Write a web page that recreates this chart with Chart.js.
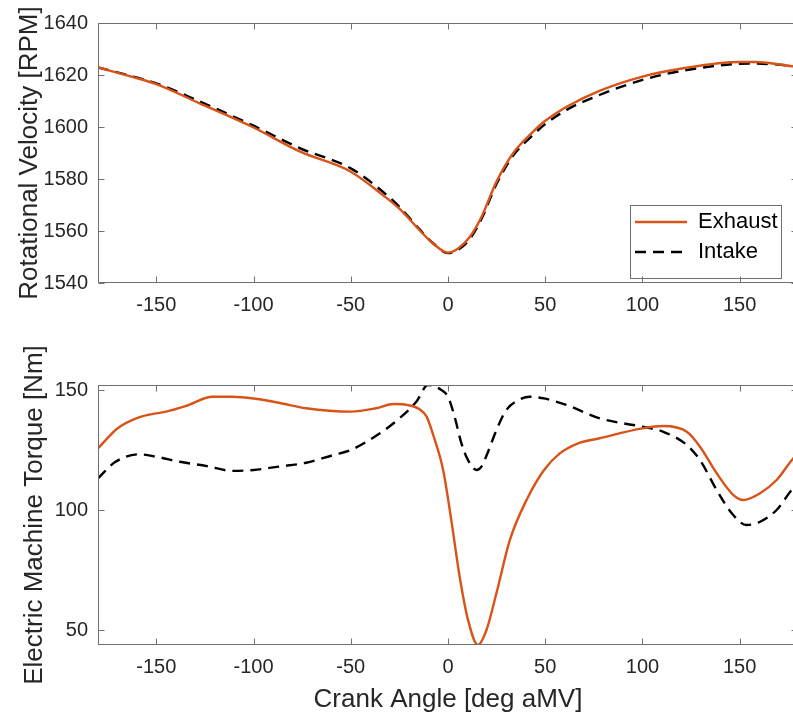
<!DOCTYPE html>
<html><head><meta charset="utf-8">
<script src="https://cdn.jsdelivr.net/npm/chart.js@4.4.1/dist/chart.umd.min.js"></script>
<style>
html,body{margin:0;padding:0;background:#fff;overflow:hidden;width:793px;height:719px;}
#topc{position:absolute;left:0;top:0;}
#botc{position:absolute;left:0;top:330px;}
</style></head><body>
<canvas id="topc" width="800" height="330"></canvas>
<canvas id="botc" width="800" height="389"></canvas>
<script>
// ---- tick labels ----
const angleTicks = [-150, -100, -50, 0, 50, 100, 150];
const rpmTicks = [1540, 1560, 1580, 1600, 1620, 1640];
const torqueTicks = [50, 100, 150];

// ---- rotational velocity ----
const rpmAngles  = [-180, -162, -150, -128, -100, -76, -50, -33.5, -24.9, -14.6, -7.7, 0, 5.2, 11.2, 17.2, 24.9, 33.5, 43.8, 49.5, 61, 78.2, 100, 121, 150, 158, 177.5, 180];
const rpmExhaust = [1622.9, 1619.2, 1616.5, 1609.2, 1599.8, 1590.5, 1582.8, 1573.8, 1568.5, 1560.3, 1555.2, 1551.7, 1553.3, 1557.7, 1565.4, 1578.9, 1589.9, 1598.2, 1602.1, 1607.8, 1614.0, 1619.4, 1622.6, 1625.0, 1625.0, 1623.3, 1623.0];
const rpmIntake  = [1622.9, 1619.4, 1616.8, 1609.9, 1600.5, 1591.8, 1584.1, 1575.1, 1569.2, 1560.6, 1555.3, 1551.5, 1552.8, 1556.9, 1564.6, 1578.0, 1589.0, 1597.0, 1600.8, 1606.6, 1612.4, 1618.1, 1621.7, 1624.3, 1624.4, 1623.5, 1623.3];

// ---- electric machine torque ----
const torqueExhaustAngles = [-180, -170, -159, -150, -145, -135, -121, -111, -100, -87, -73, -50, -37, -28, -21, -14.6, -11, -7.5, -2.5, 1.7, 6, 10.3, 15.4, 19.8, 24.9, 31.8, 40.4, 49.4, 57.5, 66, 78, 100, 110.7, 122.8, 129.6, 138.2, 146.8, 152, 160.5, 169, 177.5, 180];
const torqueExhaust       = [125.7, 134.0, 138.6, 140.3, 141.0, 143.3, 147.2, 147.2, 146.5, 144.7, 142.4, 141.0, 142.4, 144.2, 143.8, 142.0, 138.9, 131.0, 116.7, 95.8, 72.2, 54.2, 43.75, 50.0, 65.3, 87.5, 104.2, 116.7, 123.6, 127.5, 129.9, 134.0, 135.0, 132.6, 126.4, 115.3, 106.25, 104.2, 107.0, 112.5, 121.5, 123.5];
const torqueIntakeAngles  = [-180, -171, -159, -150, -138, -124, -110.6, -100, -87, -73, -59, -50, -35, -25, -16.3, -10.3, -3.4, 0, 3.4, 6.9, 10.3, 14.6, 17.2, 20.6, 24.9, 30, 37, 42, 49.4, 61, 78, 100, 110.7, 122.8, 129.6, 138.2, 146, 153.6, 160.5, 169, 177.5, 180];
const torqueIntake        = [113.2, 120.1, 123.2, 122.2, 120.1, 118.3, 116.3, 116.7, 118.1, 119.7, 122.9, 125.0, 132.0, 138.2, 145.1, 152.1, 150.0, 147.2, 138.9, 127.8, 120.8, 116.7, 118.1, 124.3, 133.3, 141.7, 146.1, 147.2, 146.5, 143.75, 138.2, 134.7, 132.6, 127.1, 120.8, 108.3, 98.6, 93.75, 95.1, 100.0, 109.0, 110.5];

const seriesNames = ['Exhaust', 'Intake'];

const FONT = '"Liberation Sans", Arial, Helvetica, sans-serif';
const TXT = '#262626';
const ORANGE = '#D95319';

const pairs = (xs, ys) => xs.map((x, i) => ({x: x, y: ys[i]}));

const framePlugin = {
  id: 'frame',
  afterDatasetsDraw(chart) {
    const {ctx, chartArea: a} = chart;
    const x = chart.scales.x, y = chart.scales.y;
    ctx.save();
    ctx.strokeStyle = '#707070';
    ctx.lineWidth = 1;
    ctx.setLineDash([]);
    const L = Math.round(a.left) + 0.5, R = Math.round(a.right) - 0.5;
    const T = Math.round(a.top) + 0.5, B = Math.round(a.bottom) - 0.5;
    ctx.strokeRect(L, T, R - L, B - T);
    const tl = 6;
    ctx.beginPath();
    x.ticks.forEach(t => {
      const p = Math.round(x.getPixelForValue(t.value)) + 0.5;
      ctx.moveTo(p, B); ctx.lineTo(p, B - tl);
      ctx.moveTo(p, T); ctx.lineTo(p, T + tl);
    });
    y.ticks.forEach(t => {
      const p = Math.round(y.getPixelForValue(t.value)) + 0.5;
      ctx.moveTo(L, p); ctx.lineTo(L + tl, p);
      ctx.moveTo(R, p); ctx.lineTo(R - tl, p);
    });
    ctx.stroke();
    ctx.restore();
  }
};

const legendPlace = {
  id: 'legendPlace',
  afterLayout(chart) {
    if (!chart.options.plugins.legend.display || !chart.legend) return;
    const lg = chart.legend;
    lg.left = 627; lg.top = 203; lg.right = 784; lg.bottom = 300;
    lg.width = lg.right - lg.left; lg.height = lg.bottom - lg.top;
  },
  afterDraw(chart) {
    if (!chart.options.plugins.legend.display || !chart.legend) return;
    const lg = chart.legend, ctx = chart.ctx;
    ctx.save();
    ctx.strokeStyle = '#707070';
    ctx.lineWidth = 1;
    ctx.setLineDash([]);
    ctx.strokeRect(lg.left + 3.5, lg.top + 2.5, 151, 73);
    ctx.restore();
  }
};

function makeChart(canvasId, opts) {
  return new Chart(document.getElementById(canvasId), {
    type: 'line',
    data: {
      datasets: [
        {label: seriesNames[0], data: opts.ex, borderColor: ORANGE, backgroundColor: ORANGE, borderWidth: 2.4, pointRadius: 0, cubicInterpolationMode: 'monotone', fill: false},
        {label: seriesNames[1], data: opts.in, borderColor: '#000000', backgroundColor: '#000000', borderWidth: 2.4, borderDash: [11, 7], pointRadius: 0, cubicInterpolationMode: 'monotone', fill: false}
      ]
    },
    options: {
      responsive: false,
      animation: false,
      events: [],
      layout: {padding: {top: opts.padTop, right: 2, left: 0, bottom: 0}},
      plugins: {
        tooltip: {enabled: false},
        legend: {
          display: opts.legend,
          position: 'chartArea',
          align: 'start',
          labels: {
            usePointStyle: true,
            pointStyleWidth: 52,
            boxHeight: 22,
            padding: 8,
            color: '#000000',
            font: {family: FONT, size: 22},
            generateLabels(chart) {
              return chart.data.datasets.map((ds, i) => ({
                text: ds.label, fillStyle: ds.borderColor, strokeStyle: ds.borderColor,
                lineWidth: ds.borderWidth, lineDash: ds.borderDash || [], lineCap: 'butt',
                pointStyle: 'line', hidden: false, datasetIndex: i, fontColor: '#000000'
              }));
            }
          }
        }
      },
      scales: {
        x: {
          type: 'linear', min: -180, max: 180,
          grid: {display: false, drawTicks: false},
          border: {display: false},
          afterBuildTicks: s => { s.ticks = angleTicks.map(v => ({value: v})); },
          afterFit: s => { s.height = opts.xHeight; },
          ticks: {color: TXT, font: {family: FONT, size: 20}, padding: 10, maxRotation: 0, autoSkip: false, callback: v => String(v)},
          title: {display: opts.xTitle, text: 'Crank Angle [deg aMV]', color: TXT, font: {family: FONT, size: 26}, padding: {top: 0, bottom: 4}}
        },
        y: {
          type: 'linear', min: opts.ymin, max: opts.ymax,
          grid: {display: false, drawTicks: false},
          border: {display: false},
          afterBuildTicks: s => { s.ticks = opts.yticks.map(v => ({value: v})); },
          afterFit: s => { s.width = 98; },
          ticks: {color: TXT, font: {family: FONT, size: 20}, padding: 10, autoSkip: false, callback: v => String(v)},
          title: {display: true, text: opts.yTitle, color: TXT, font: {family: FONT, size: 26}, padding: {top: opts.yTitlePad, bottom: 0}}
        }
      }
    },
    plugins: [framePlugin, legendPlace]
  });
}

makeChart('topc', {
  ex: pairs(rpmAngles, rpmExhaust), in: pairs(rpmAngles, rpmIntake),
  padTop: 23, xHeight: 47, legend: true, xTitle: false,
  ymin: 1540, ymax: 1640, yticks: rpmTicks, yTitle: 'Rotational Velocity [RPM]', yTitlePad: 14
});
makeChart('botc', {
  ex: pairs(torqueExhaustAngles, torqueExhaust), in: pairs(torqueIntakeAngles, torqueIntake),
  padTop: 55, xHeight: 74, legend: false, xTitle: true,
  ymin: 43.75, ymax: 152.1, yticks: torqueTicks, yTitle: 'Electric Machine Torque [Nm]', yTitlePad: 19
});
</script>
</body></html>
